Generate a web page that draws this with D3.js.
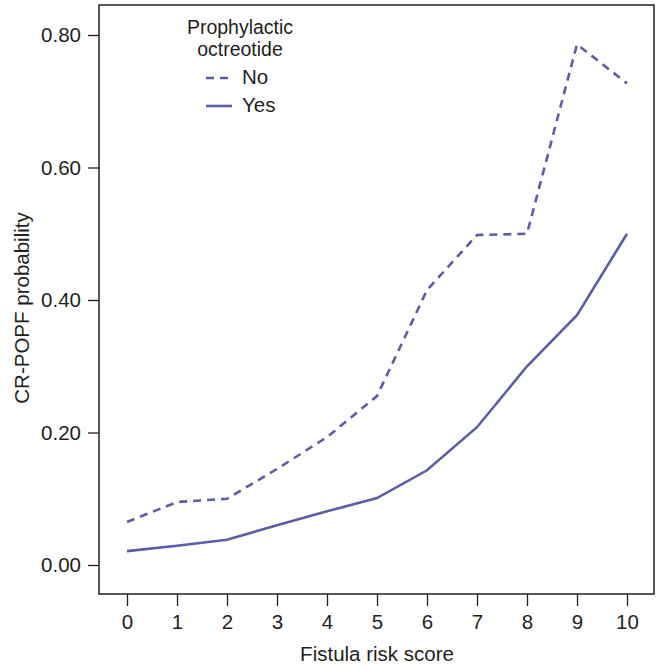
<!DOCTYPE html>
<html>
<head>
<meta charset="utf-8">
<script src="https://cdn.jsdelivr.net/npm/d3@7"></script>
<style>
  html, body { margin: 0; padding: 0; background: #fff; }
  svg { display: block; }
  text { font-family: "Liberation Sans", Arial, sans-serif; fill: #231f20; }
</style>
</head>
<body>
<svg id="chart" width="656" height="669"></svg>
<script>
// ---- data ----
const scores = [0, 1, 2, 3, 4, 5, 6, 7, 8, 9, 10];
const probNo  = [0.065, 0.095, 0.100, 0.145, 0.193, 0.255, 0.415, 0.498, 0.500, 0.786, 0.727];
const probYes = [0.021, 0.029, 0.038, 0.060, 0.081, 0.101, 0.143, 0.208, 0.300, 0.377, 0.500];
const yTicks = [0, 0.2, 0.4, 0.6, 0.8];
const xTicks = [0, 1, 2, 3, 4, 5, 6, 7, 8, 9, 10];
const legendTitle = ["Prophylactic", "octreotide"];
const seriesNames = ["No", "Yes"];
const xTitle = "Fistula risk score";
const yTitle = "CR-POPF probability";

// ---- layout ----
const box = { left: 99, top: 5, right: 654, bottom: 594 };
const color = "#5b5ea6";
const fontSize = 20.5;

const svg = d3.select("#chart");

const x = d3.scaleLinear().domain([0, 10]).range([127, 627]);
const y = d3.scaleLinear().domain([0, 0.8]).range([565, 35]);

// frame
svg.append("rect")
  .attr("x", box.left).attr("y", box.top)
  .attr("width", box.right - box.left).attr("height", box.bottom - box.top)
  .attr("fill", "none").attr("stroke", "#231f20").attr("stroke-width", 1.5);

// y axis
const yAxis = svg.append("g")
  .attr("transform", `translate(${box.left},0)`)
  .call(d3.axisLeft(y).tickValues(yTicks).tickFormat(d3.format(".2f")).tickSize(11).tickPadding(7));
yAxis.select(".domain").remove();
yAxis.selectAll("line").attr("stroke", "#231f20").attr("stroke-width", 1.3);
yAxis.selectAll("text").attr("font-size", fontSize).attr("font-family", "Liberation Sans, Arial, sans-serif").attr("fill", "#231f20");

// x axis
const xAxis = svg.append("g")
  .attr("transform", `translate(0,${box.bottom})`)
  .call(d3.axisBottom(x).tickValues(xTicks).tickFormat(d3.format("d")).tickSize(12).tickPadding(8));
xAxis.select(".domain").remove();
xAxis.selectAll("line").attr("stroke", "#231f20").attr("stroke-width", 1.3);
xAxis.selectAll("text").attr("font-size", fontSize).attr("font-family", "Liberation Sans, Arial, sans-serif").attr("fill", "#231f20");

// axis titles
svg.append("text")
  .attr("x", (x(0) + x(10)) / 2).attr("y", 661)
  .attr("text-anchor", "middle").attr("font-size", fontSize)
  .text(xTitle);

svg.append("text")
  .attr("transform", `translate(29,${(y(0) + y(0.8)) / 2 + 8}) rotate(-90)`)
  .attr("text-anchor", "middle").attr("font-size", fontSize)
  .text(yTitle);

// lines
const line = d3.line()
  .x((d, i) => x(scores[i]))
  .y(d => y(d));

svg.append("path")
  .datum(probNo)
  .attr("d", line)
  .attr("fill", "none").attr("stroke", color).attr("stroke-width", 2.6)
  .attr("stroke-dasharray", "8,6");

svg.append("path")
  .datum(probYes)
  .attr("d", line)
  .attr("fill", "none").attr("stroke", color).attr("stroke-width", 2.6);

// legend
const lg = svg.append("g");
const title = lg.append("text").attr("text-anchor", "middle").attr("font-size", 19.5);
title.append("tspan").attr("x", 240).attr("y", 34).text(legendTitle[0]);
title.append("tspan").attr("x", 240).attr("y", 56).text(legendTitle[1]);

const legendRows = [
  { name: seriesNames[0], dash: "8,6", ly: 78, ty: 84 },
  { name: seriesNames[1], dash: null, ly: 106, ty: 112 }
];
legendRows.forEach(r => {
  lg.append("line")
    .attr("x1", 206).attr("x2", 232).attr("y1", r.ly).attr("y2", r.ly)
    .attr("stroke", color).attr("stroke-width", 2.6)
    .attr("stroke-dasharray", r.dash);
  lg.append("text").attr("x", 242).attr("y", r.ty)
    .attr("font-size", fontSize).text(r.name);
});
</script>
</body>
</html>
